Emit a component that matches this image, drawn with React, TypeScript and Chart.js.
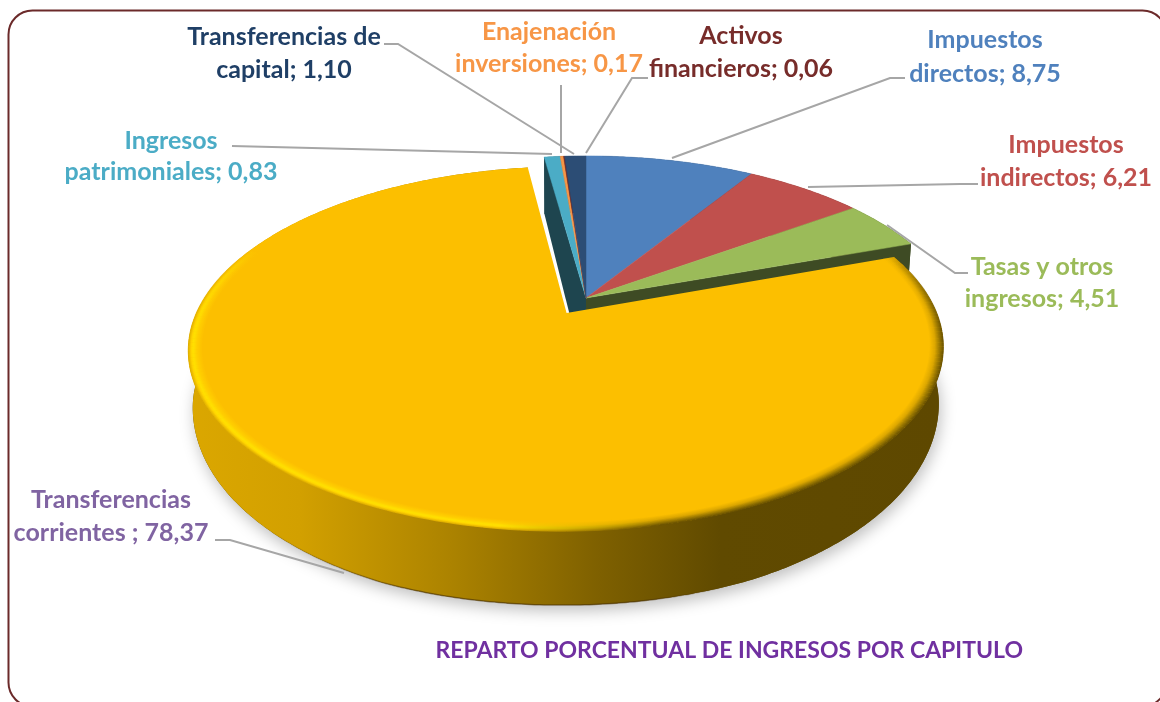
import React, { useEffect, useRef } from "react";
import { Chart, registerables } from "chart.js";

Chart.register(...registerables);

const categories = [
  "Impuestos directos",
  "Impuestos indirectos",
  "Tasas y otros ingresos",
  "Transferencias corrientes ",
  "Ingresos patrimoniales",
  "Enajenación inversiones",
  "Activos financieros",
  "Transferencias de capital",
];
const values = [8.75, 6.21, 4.51, 78.37, 0.83, 0.17, 0.06, 1.1];
const sliceColors = ["#4F81BD", "#C0504D", "#9BBB59", "#FCBF00", "#4BACC6", "#F79646", "#772C2A", "#2C4D75"];
const labelColors = ["#4F81BD", "#C0504D", "#9BBB59", "#8064A2", "#4BACC6", "#F79646", "#772C2A", "#1F3F66"];
const firstLineWords = [1, 1, 3, 1, 1, 1, 1, 2];
const explode = [0, 0, 0, 0.1015, 0, 0, 0, 0];
const titleText = "REPARTO PORCENTUAL DE INGRESOS POR CAPITULO";

// Label layout: [centre x, line 1 y, line 2 y]
const labelPlaces = [
  [985, 40, 74],
  [1066, 145, 178],
  [1042, 267, 299],
  [111, 500, 533],
  [171, 141, 172],
  [549, 32, 64],
  [741, 36, 69],
  [284, 37, 70],
];
const leaderPaths = [
  [[905, 78], [890, 78], [672, 158]],
  [[978, 184], [960, 184], [808, 187]],
  [[968, 273], [955, 273], [887, 225]],
  [[215, 540], [230, 540], [344, 573]],
  [[232, 146], [552, 154]],
  [[561, 85], [561, 153]],
  [[648, 78], [632, 78], [586, 153]],
  [[384, 44], [398, 44], [574, 154]],
];

// Perspective view of the pie's plane
const VIEW = { x0: 586, y0: 298, a: 364, b: 169.5, p: 0.193, midX: 566, narrow: 0.012, wallLean: 6, fixedWiden: 1.012 };
const wallHeight = (v: number) => 57 + 17 * Math.max(0, Math.min(1, (v - 0.3) / 0.7));
const project = (u: number, v: number, z = 0): [number, number] => {
  const w = 1 - VIEW.p * v;
  const x = VIEW.x0 + (VIEW.a * u) / w;
  return [x + (VIEW.midX - x) * VIEW.narrow * z, VIEW.y0 + (VIEW.b * v) / w + wallHeight(v) * z];
};

const lerpHex = (stops: [number, string][], t: number) => {
  let i = 0;
  while (i < stops.length - 2 && t > stops[i + 1][0]) i++;
  const [t0, c0] = stops[i];
  const [t1, c1] = stops[i + 1];
  const k = Math.max(0, Math.min(1, (t - t0) / (t1 - t0)));
  const ch = (c: string, o: number) => parseInt(c.slice(o, o + 2), 16);
  const m = [1, 3, 5].map((o) => Math.round(ch(c0, o) + (ch(c1, o) - ch(c0, o)) * k));
  return `rgb(${m[0]},${m[1]},${m[2]})`;
};
const shade = (hex: string, k: number) => {
  const m = [1, 3, 5].map((o) => Math.round(parseInt(hex.slice(o, o + 2), 16) * k));
  return `rgb(${m[0]},${m[1]},${m[2]})`;
};

const bevelLeft: [number, string][] = [[0, "#E0AE00"], [0.2, "#FFD400"], [0.35, "#FFE100"], [0.6, "#FFCF00"], [1, "#FCBF00"]];
const bevelRight: [number, string][] = [[0, "#6A5200"], [0.3, "#A07C00"], [0.6, "#DCA700"], [1, "#FCBF00"]];

const piePlugin = {
  id: "perspectivePie",
  beforeDraw(chart: any) {
    const { ctx } = chart;
    ctx.save();
    ctx.fillStyle = "#fff";
    ctx.fillRect(0, 0, chart.width, chart.height);
    ctx.beginPath();
    ctx.roundRect(8.5, 10.5, 1158, 696, 24);
    ctx.strokeStyle = "#6B2A2A";
    ctx.lineWidth = 2;
    ctx.stroke();
    ctx.restore();
  },
  beforeDatasetsDraw(chart: any) {
    const { ctx } = chart;
    const arcs = chart.getDatasetMeta(0).data;
    const geom = arcs.map((el: any, i: number) => {
      const { startAngle: s, endAngle: e } = el.getProps(["startAngle", "endAngle"], true);
      const m = (s + e) / 2;
      return { s, e, ox: Math.cos(m) * explode[i], oy: Math.sin(m) * explode[i], wide: explode[i] > 0 ? 1 : VIEW.fixedWiden };
    });
    const arcPts = (g: any, z: number, f = 1) => {
      const pts: [number, number][] = [];
      const n = Math.max(2, Math.ceil((g.e - g.s) / 0.01));
      for (let k = 0; k <= n; k++) {
        const t = g.s + ((g.e - g.s) * k) / n;
        pts.push(project(g.ox + g.wide * f * Math.cos(t), g.oy + f * Math.sin(t), z));
      }
      return pts;
    };
    const poly = (pts: [number, number][]) => {
      ctx.beginPath();
      pts.forEach((p, i) => (i ? ctx.lineTo(p[0], p[1]) : ctx.moveTo(p[0], p[1])));
      ctx.closePath();
    };
    const face = (g: any, z: number) => [project(g.ox, g.oy, z), ...arcPts(g, z)];
    const big = explode.findIndex((d) => d > 0);
    const n = geom.length;
    const a0 = project(0, 0, 0);
    const a1 = project(0, 0, 1);
    const radialWall = (g: any, atEnd: boolean, color: string) => {
      const top = arcPts(g, 0);
      const bot = arcPts(g, 1);
      const j = atEnd ? top.length - 1 : 0;
      ctx.fillStyle = color;
      const lean: [number, number] = [a1[0] - (atEnd ? 0 : VIEW.wallLean), a1[1]];
      poly([a0, top[j], bot[j], lean, [a0[0], a1[1]]]);
      ctx.fill();
    };

    ctx.save();
    // walls of the slices that stay in place
    geom.forEach((g: any, i: number) => {
      if (i === big) return;
      ctx.fillStyle = shade(sliceColors[i], 0.4);
      const top = arcPts(g, 0);
      const bot = arcPts(g, 1);
      poly([...top, ...bot.reverse()]);
      ctx.fill();
    });
    radialWall(geom[(big + 1) % n], false, shade(sliceColors[(big + 1) % n], 0.4));
    radialWall(geom[(big + n - 1) % n], true, shade(sliceColors[(big + n - 1) % n], 0.4));
    geom.forEach((g: any, i: number) => {
      if (i === big) return;
      ctx.fillStyle = sliceColors[i];
      ctx.strokeStyle = sliceColors[i];
      ctx.lineWidth = 0.5;
      poly(face(g, 0));
      ctx.fill();
      ctx.stroke();
    });

    // exploded slice: shadow, wall, face, bevel
    const g = geom[big];
    ctx.save();
    ctx.shadowColor = "rgba(0,0,0,0.25)";
    ctx.shadowBlur = 15;
    ctx.shadowOffsetX = 2;
    ctx.shadowOffsetY = 6;
    ctx.fillStyle = "#5E4800";
    poly(face(g, 1));
    ctx.fill();
    ctx.restore();

    const left = 188;
    const span = 754;
    const wall = ctx.createLinearGradient(left, 0, left + span, 0);
    ([[188, "#DBA700"], [300, "#D2A000"], [450, "#AC8300"], [600, "#7E6000"], [720, "#604A00"], [942, "#5E4800"]] as [number, string][]).forEach(
      ([x, c]) => wall.addColorStop((x - left) / span, c)
    );
    ctx.fillStyle = wall;
    const top = arcPts(g, 0);
    const bot = arcPts(g, 1);
    poly([...top, ...bot.slice().reverse()]);
    ctx.fill();

    // dark line along the lower edge of the front wall
    const edge = ctx.createLinearGradient(left, 0, left + span, 0);
    edge.addColorStop(0.1, "rgba(70,45,0,0)");
    edge.addColorStop(0.3, "rgba(70,45,0,0.55)");
    edge.addColorStop(0.6, "rgba(70,45,0,0.55)");
    edge.addColorStop(0.72, "rgba(70,45,0,0)");
    ctx.strokeStyle = edge;
    ctx.lineWidth = 1.5;
    ctx.beginPath();
    bot.forEach((p, i) => (i ? ctx.lineTo(p[0], p[1]) : ctx.moveTo(p[0], p[1])));
    ctx.stroke();

    ctx.fillStyle = sliceColors[big];
    poly(face(g, 0));
    ctx.fill();

    const levels = 16;
    ctx.lineWidth = 1.6;
    for (let l = 0; l < levels; l++) {
      const t = l / (levels - 1);
      const f = 1 - 0.036 * t - 0.001;
      const gr = ctx.createLinearGradient(left, 0, left + span, 0);
      gr.addColorStop(0, lerpHex(bevelLeft, t));
      gr.addColorStop((500 - left) / span, lerpHex(bevelLeft, t));
      gr.addColorStop((660 - left) / span, lerpHex(bevelRight, t));
      gr.addColorStop(1, lerpHex(bevelRight, t));
      ctx.strokeStyle = gr;
      const segs = 240;
      for (let k = 0; k < segs; k++) {
        const t0 = g.s + ((g.e - g.s) * k) / segs;
        const t1 = g.s + ((g.e - g.s) * (k + 1)) / segs;
        const vm = g.oy + f * Math.sin((t0 + t1) / 2);
        // the rim only shows on the front of the disc
        const alpha = Math.max(0, Math.min(1, (vm + 0.3) / 0.5));
        if (alpha <= 0) continue;
        const p = project(g.ox + f * Math.cos(t0), g.oy + f * Math.sin(t0));
        const q = project(g.ox + f * Math.cos(t1), g.oy + f * Math.sin(t1));
        ctx.globalAlpha = alpha;
        ctx.beginPath();
        ctx.moveTo(p[0], p[1]);
        ctx.lineTo(q[0], q[1]);
        ctx.stroke();
      }
      ctx.globalAlpha = 1;
    }
    ctx.restore();
    return false;
  },
  afterDraw(chart: any) {
    const { ctx } = chart;
    ctx.save();
    ctx.strokeStyle = "#A6A6A6";
    ctx.lineWidth = 2;
    leaderPaths.forEach((path) => {
      ctx.beginPath();
      path.forEach((p, i) => (i ? ctx.lineTo(p[0], p[1]) : ctx.moveTo(p[0], p[1])));
      ctx.stroke();
    });
    ctx.font = 'bold 25px Lato, "Open Sans", sans-serif';
    ctx.textAlign = "center";
    ctx.textBaseline = "middle";
    categories.forEach((cat, i) => {
      const words = cat.split(" ");
      const line1 = words.slice(0, firstLineWords[i]).join(" ");
      const line2 = words.slice(firstLineWords[i]).join(" ") + "; " + values[i].toFixed(2).replace(".", ",");
      ctx.fillStyle = labelColors[i];
      ctx.fillText(line1, labelPlaces[i][0], labelPlaces[i][1]);
      ctx.fillText(line2, labelPlaces[i][0], labelPlaces[i][2]);
    });
    ctx.restore();
  },
};

export default function App() {
  const ref = useRef<HTMLCanvasElement>(null);
  useEffect(() => {
    if (!ref.current) return;
    const chart = new Chart(ref.current, {
      type: "pie",
      data: {
        labels: categories,
        datasets: [
          {
            data: values,
            backgroundColor: sliceColors,
            borderWidth: 0,
            offset: explode.map((d) => d * 200),
          },
        ],
      },
      options: {
        responsive: false,
        animation: false,
        layout: { padding: { right: 137, bottom: 38 } },
        plugins: {
          legend: { display: false },
          tooltip: { enabled: false },
          title: {
            display: true,
            text: titleText,
            position: "bottom",
            align: "end",
            color: "#7030A0",
            font: { family: 'Lato, "Open Sans", sans-serif', size: 23, weight: "bold" },
            padding: 0,
          },
        },
      },
      plugins: [piePlugin],
    } as any);
    return () => chart.destroy();
  }, []);
  return (
    <canvas
      ref={ref}
      width={1160}
      height={702}
      style={{ position: "fixed", left: 0, top: 0, width: 1160, height: 702, display: "block" }}
    />
  );
}
